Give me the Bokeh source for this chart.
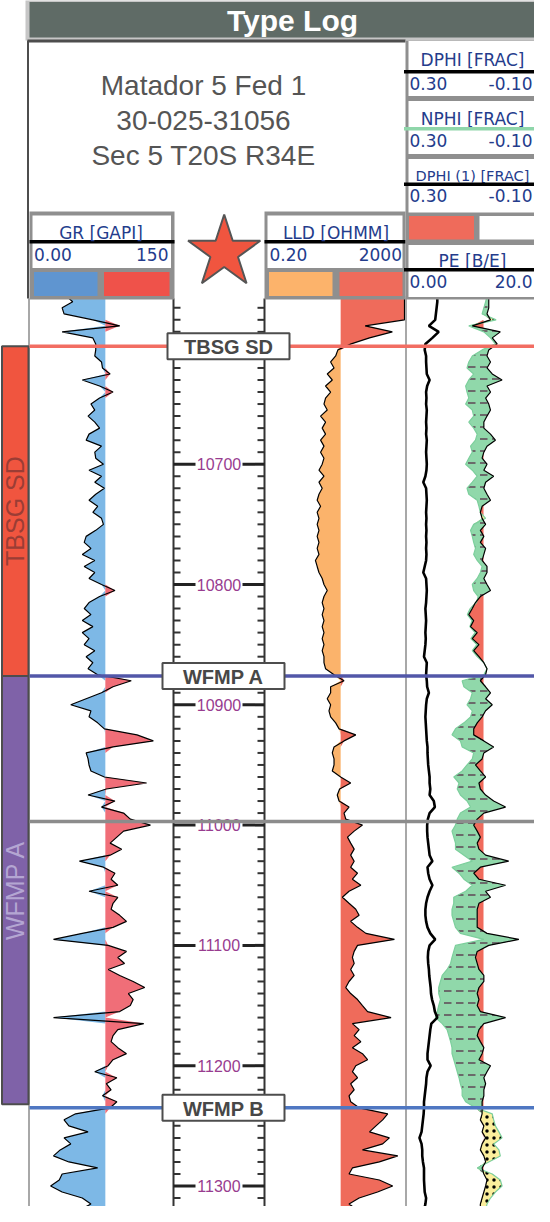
import numpy as np
from bokeh.plotting import figure
from bokeh.models import Range1d, LogScale
from bokeh.core.properties import value
from bokeh.embed import file_html
from bokeh.resources import INLINE

# ---------------- data ----------------
depth = np.arange(10560, 11321, 5)  # ft, 153 samples

gr = [38, 45, 34, 36, 66, 94, 34, 66, 69, 69,
      68, 75, 76, 84, 55, 73, 87, 73, 64, 68,
      61, 68, 73, 62, 59, 75, 68, 69, 77, 62,
      75, 68, 78, 69, 62, 71, 66, 75, 77, 69,
      59, 57, 64, 55, 68, 57, 68, 62, 75, 89,
      73, 62, 57, 64, 55, 66, 55, 62, 57, 68,
      59, 66, 61, 71, 106, 87, 75, 59, 43, 64,
      62, 71, 78, 112, 129, 87, 59, 61, 62, 64,
      78, 122, 80, 61, 89, 75, 98, 105, 126, 98,
      91, 84, 96, 84, 52, 77, 89, 85, 92, 62,
      92, 87, 85, 94, 101, 87, 55, 25, 82, 101,
      92, 99, 82, 94, 108, 120, 103, 108, 105, 94,
      25, 119, 92, 87, 85, 92, 101, 87, 82, 68,
      91, 80, 85, 76, 91, 84, 48, 36, 41, 61,
      36, 43, 32, 25, 41, 71, 34, 31, 22, 34,
      55, 64, 52]

lld = [2000, 2000, 2000, 2000, 2000, 150, 900, 200, 60, 25,
       21.6, 15.5, 19.4, 12.4, 17.3, 11.1, 15.5, 11.1, 10.0, 12.4,
       8.0, 11.1, 8.9, 11.1, 8.0, 10.0, 8.0, 10.0, 8.9, 7.2,
       10.0, 7.2, 8.9, 7.2, 6.4, 8.0, 6.4, 7.2, 6.4, 7.2,
       6.4, 7.2, 6.4, 7.2, 5.7, 6.4, 7.2, 8.9, 10.0, 12.4,
       10.0, 8.9, 10.0, 8.9, 10.0, 8.9, 10.0, 8.9, 10.0, 8.9,
       10.0, 10.0, 11.1, 19.4, 37.5, 15.5, 15.5, 12.4, 15.5, 13.9,
       15.5, 21.6, 27, 81, 37.5, 19.4, 17.3, 19.4, 19.4, 17.3,
       30, 58, 28, 24, 27, 52, 37.5, 42, 126, 73,
       47, 58, 73, 58, 73, 58, 91, 65, 113, 52,
       33.6, 52, 81, 101, 58, 91, 158, 1031, 91, 73,
       65, 73, 58, 73, 52, 42, 58, 91, 126, 176,
       826, 65, 101, 73, 113, 65, 126, 176, 81, 65,
       91, 58, 73, 52, 58, 101, 663, 476, 306, 200,
       740, 476, 126, 1286, 382, 65, 52, 382, 920, 340,
       101, 52, 91]

nphi = [.070, .074, .079, .084, .044, .122, .079, .060, .046, .084,
        .112, .122, .127, .108, .122, .131, .127, .122, .131, .112,
        .108, .122, .108, .098, .103, .117, .112, .122, .131, .112,
        .098, .112, .127, .122, .098, .093, .089, .074, .108, .117,
        .112, .108, .103, .108, .098, .084, .089, .098, .112, .108,
        .095, .100, .118, .126, .113, .119, .104, .116, .099, .112,
        .098, .079, .070, .079, .141, .136, .112, .117, .127, .112,
        .117, .136, .160, .170, .146, .141, .108, .112, .127, .141,
        .165, .150, .155, .146, .127, .117, .146, .155, .160, .170,
        .165, .160, .160, .136, .112, .170, .150, .136, .112, .131,
        .165, .165, .170, .170, .165, .160, .146, .079, .160, .165,
        .170, .174, .184, .198, .203, .208, .208, .203, .208, .212,
        .217, .198, .184, .179, .174, .170, .170, .165, .160, .155,
        .150, .146, .141, .141, .131, .103, .055, .051, .046, .036,
        .027, .051, .036, .032, .065, .098, .055, .032, .027, .046,
        .060, .070, .074]

dphi = [.065, .065, .065, .070, .060, .112, .032, .055, .041, .065,
        .070, .060, .070, .055, .027, .070, .060, .074, .065, .060,
        .070, .079, .079, .060, .046, .070, .079, .084, .070, .079,
        .051, .074, .079, .070, .060, .084, .089, .084, .074, .089,
        .079, .089, .074, .079, .084, .070, .070, .079, .070, .060,
        .089, .103, .112, .122, .108, .117, .098, .112, .093, .108,
        .093, .079, .070, .074, .089, .074, .060, .074, .055, .074,
        .084, .098, .108, .108, .079, .051, .079, .084, .103, .089,
        .074, .093, .089, .074, .051, .017, .079, .098, .108, .098,
        .089, .098, .093, .074, .008, .089, .108, .093, .017, .074,
        .060, .093, .098, .098, .098, .098, .070, -.021, .065, .098,
        .103, .098, .093, .079, .079, .093, .098, .093, .098, .089,
        .017, .079, .093, .098, .089, .079, .084, .093, .060, .070,
        .079, .074, .079, .079, .084, .084, .084, .089, .079, .084,
        .074, .084, .089, .079, .074, .084, .079, .070, .074, .079,
        .084, .089, .089]

pe = [4.4, 4.4, 4.3, 4.2, 4.1, 3.2, 4.6, 3.7, 2.7, 2.6,
      2.8, 2.8, 2.85, 2.9, 3.3, 2.95, 2.8, 2.85, 2.8, 2.9,
      2.85, 2.8, 2.85, 2.8, 2.9, 2.85, 2.8, 2.85, 2.9, 2.85,
      2.7, 2.4, 2.8, 2.85, 2.9, 2.85, 2.8, 2.85, 2.8, 2.85,
      2.8, 2.85, 2.8, 2.85, 2.8, 2.6, 2.4, 2.8, 2.85, 2.9,
      2.85, 2.8, 2.7, 2.75, 2.8, 2.75, 2.7, 2.75, 2.7, 2.6,
      2.5, 2.9, 2.85, 2.8, 2.9, 2.95, 3.2, 2.9, 2.8, 2.75,
      2.7, 2.75, 2.8, 2.85, 2.9, 3.0, 3.0, 3.05, 3.1, 3.2,
      3.3, 3.3, 3.4, 3.3, 3.9, 4.05, 3.3, 3.05, 2.95, 2.95,
      3.0, 3.1, 3.2, 3.3, 3.7, 3.0, 3.1, 3.3, 3.7, 3.3,
      3.0, 2.8, 2.7, 2.7, 2.8, 3.0, 3.4, 4.1, 3.3, 3.1,
      3.05, 3.1, 3.2, 3.25, 3.35, 3.45, 3.5, 3.65, 3.9, 4.05,
      4.4, 3.55, 3.4, 3.3, 3.2, 3.1, 3.0, 3.0, 3.45, 3.0,
      2.85, 2.8, 2.7, 2.6, 2.5, 2.5, 2.45, 2.35, 2.25, 2.15,
      1.85, 2.15, 2.25, 2.25, 2.35, 2.5, 2.5, 2.5, 2.55, 2.6,
      2.8, 2.7, 2.5]

gr_cut, lld_cut, phi_cut = 79, 30, 0.08

top_depths = [10602, 10876, 10997, 11235]
top_names = ["TBSG SD", "WFMP A", "", "WFMP B"]
top_colors = ["#f26d62", "#5257a8", "#8c8c8c", "#4f77c2"]
top_box_x = [236, 231, None, 231]

zone_names = ["TBSG SD", "WFMP A"]
zone_tops = [10602, 10876]
zone_bases = [10876, 11232]
zone_colors = ["#f0553f", "#7f62a8"]
zone_text_colors = ["#9b3d35", "#b4a6d2"]

well_lines = ["Matador 5 Fed 1", "30-025-31056", "Sec 5 T20S R34E"]
depth_labels = list(range(10600, 11301, 100))

# ---------------- geometry ----------------
W, H = 534, 1206
X0, X1, Y0, Y1 = 8, 8 + W, 8, 8 + H
D_REF, Y_REF, PX_FT = 10700, 471.7, 1.203


def y2d(y):
    return D_REF + (y - Y_REF) / PX_FT


def lin_range(l, r, vmin, vmax):
    k = (vmax - vmin) / (r - l)
    return Range1d(vmin + (X0 - l) * k, vmin + (X1 - l) * k)


def log_range(l, r, vmin, vmax):
    a, b = np.log10(vmin), np.log10(vmax)
    k = (b - a) / (r - l)
    return Range1d(10 ** (a + (X0 - l) * k), 10 ** (a + (X1 - l) * k))


GR_L, GR_R = 37, 181
LLD_L, LLD_R = 272, 412
PHI_L, PHI_R = 414, 554

p = figure(width=W, height=H, x_range=Range1d(X0, X1), y_range=Range1d(Y1, Y0),
           output_backend="svg", toolbar_location=None, min_border=0,
           x_axis_location=None, y_axis_location=None,
           extra_x_ranges={"gr": lin_range(GR_L, GR_R, 0, 150),
                           "lld": log_range(LLD_L, LLD_R, 0.2, 2000),
                           "phi": lin_range(PHI_L, PHI_R, 0.30, -0.10),
                           "pe": lin_range(PHI_L, PHI_R, 0, 20)},
           extra_x_scales={"lld": LogScale()},
           extra_y_ranges={"depth": Range1d(y2d(Y1), y2d(Y0))})
p.grid.visible = False
p.outline_line_color = None
p.background_fill_color = "white"

g = np.array(gr, float)
l = np.array(lld, float)
n = np.array(nphi, float)
d = np.array(dphi, float)
D = dict(y_range_name="depth")

# GR
p.harea(x1=np.minimum(g, gr_cut), x2=np.full_like(g, gr_cut), y=depth,
        fill_color="#7db8e6", x_range_name="gr", **D)
p.harea(x1=np.full_like(g, gr_cut), x2=np.maximum(g, gr_cut), y=depth,
        fill_color="#f06e78", x_range_name="gr", **D)
p.line(g, depth, line_color="black", line_width=1.2, x_range_name="gr", **D)

# LLD
p.harea(x1=np.minimum(l, lld_cut), x2=np.full_like(l, lld_cut), y=depth,
        fill_color="#fbb36b", x_range_name="lld", **D)
p.harea(x1=np.full_like(l, lld_cut), x2=np.maximum(l, lld_cut), y=depth,
        fill_color="#ef6b5b", x_range_name="lld", **D)
p.line(l, depth, line_color="black", line_width=1.2, x_range_name="lld", **D)

# porosity
p.harea(x1=np.maximum(d, phi_cut), x2=np.full_like(d, phi_cut), y=depth,
        fill_color="#f06b5c", x_range_name="phi", **D)
p.harea(x1=np.where(d > n, d, n), x2=n, y=depth, fill_color="#fbee9c",
        hatch_pattern="dot", hatch_color="black", hatch_scale=7, hatch_weight=1.5,
        x_range_name="phi", **D)
p.harea(x1=np.where(n > d, n, d), x2=d, y=depth, fill_color="#90d8aa",
        hatch_pattern="horizontal_dash", hatch_color="#6a6a6a", hatch_scale=12,
        hatch_weight=2, x_range_name="phi", **D)
p.line(n, depth, line_color="#7ccf9c", line_width=1.2, x_range_name="phi", **D)
p.line(d, depth, line_color="black", line_width=1.2, x_range_name="phi", **D)
p.line(pe, depth, line_color="black", line_width=2.6, x_range_name="pe", **D)

# track borders
yb0, yb1 = [depth[0]], [y2d(Y1)]
p.segment(x0=[36.5], x1=[36.5], y0=yb0, y1=yb1, line_color="#a8a8a8", line_width=2, **D)
p.segment(x0=[181, 272], x1=[181, 272], y0=yb0 * 2, y1=yb1 * 2,
          line_color="#333333", line_width=2, **D)
p.segment(x0=[413.5], x1=[413.5], y0=yb0, y1=yb1, line_color="#a8a8a8", line_width=2, **D)

# depth ticks
minor = [t for t in range(10560, 11320, 10) if t % 100 != 0]
p.segment(x0=[181] * len(minor), x1=[188] * len(minor), y0=minor, y1=minor,
          line_color="#333333", line_width=2, **D)
p.segment(x0=[265] * len(minor), x1=[272] * len(minor), y0=minor, y1=minor,
          line_color="#333333", line_width=2, **D)
nl = len(depth_labels)
p.segment(x0=[181] * nl, x1=[203] * nl, y0=depth_labels, y1=depth_labels,
          line_color="#222222", line_width=3, **D)
p.segment(x0=[250] * nl, x1=[272] * nl, y0=depth_labels, y1=depth_labels,
          line_color="#222222", line_width=3, **D)
p.text(x=[226.5] * nl, y=depth_labels, text=[str(v) for v in depth_labels],
       text_font=value("Liberation Sans"), text_font_size="16px", text_color="#983c8f",
       text_align="center", text_baseline="middle", **D)

# zone column
p.quad(left=[9.5] * 2, right=[36] * 2, top=zone_tops, bottom=zone_bases,
       fill_color=zone_colors, line_color="#4d4d4d", line_width=2, **D)
p.text(x=[22.5] * 2, y=[(a + b) / 2 for a, b in zip(zone_tops, zone_bases)],
       text=zone_names, angle=np.pi / 2, text_font=value("Liberation Sans"),
       text_font_size="25px", text_color=zone_text_colors,
       text_align="center", text_baseline="middle", **D)

# formation tops
nt = len(top_depths)
p.segment(x0=[37] * nt, x1=[X1 + 20] * nt, y0=top_depths, y1=top_depths,
          line_color=top_colors, line_width=3.5, **D)
bx = [x for x in top_box_x if x is not None]
by = [t for t, x in zip(top_depths, top_box_x) if x is not None]
bn = [s for s, x in zip(top_names, top_box_x) if x is not None]
p.rect(x=bx, y=by, width=122, height=26, width_units="screen", height_units="screen",
       fill_color="white", line_color="#4d4d4d", line_width=2, **D)
p.text(x=bx, y=by, text=bn, text_font=value("Liberation Sans"), text_font_style="bold",
       text_font_size="20px", text_color="#474747", text_align="center",
       text_baseline="middle", y_offset=1, **D)

# ---------------- header ----------------
p.quad(left=[33], right=[570], top=[3], bottom=[48], fill_color="#c6c6c6", line_color=None)
p.quad(left=[37], right=[566], top=[9.5], bottom=[45], fill_color="#5f6b66", line_color=None)
p.text(x=[300], y=[27.5], text=["Type Log"], text_font=value("Liberation Sans"),
       text_font_style="bold", text_font_size="30px", text_color="white",
       text_align="center", text_baseline="middle")

p.quad(left=[35], right=[413], top=[48], bottom=[306], fill_color="white", line_color=None)
p.segment(x0=[35], x1=[413], y0=[48.5], y1=[48.5], line_color="#4d4d4d", line_width=3)
p.segment(x0=[35.5], x1=[35.5], y0=[48], y1=[306], line_color="#4d4d4d", line_width=2)
p.text(x=[211] * 3, y=[93.3, 128.3, 163.3], text=well_lines,
       text_font=value("Liberation Sans"), text_font_size="28px", text_color="#555555",
       text_align="center", text_baseline="middle")

HF = value("DejaVu Sans")
NAVY = "#243c8c"
GRAY = "#8f8f8f"

# GR header
p.quad(left=[37], right=[182], top=[219], bottom=[307], fill_color=GRAY, line_color=None)
p.quad(left=[40], right=[178.5], top=[223], bottom=[275.5], fill_color="white", line_color=None)
p.quad(left=[41.5, 111.5], right=[105, 177], top=[279.5] * 2, bottom=[303.5] * 2,
       fill_color=["#5f95d0", "#ef524a"], line_color=None)
p.segment(x0=[37], x1=[182], y0=[249.3], y1=[249.3], line_color="black", line_width=3.5)
p.text(x=[108.5], y=[240], text=["GR [GAPI]"], text_font=HF, text_font_size="17px",
       text_color=NAVY, text_align="center", text_baseline="middle")
p.text(x=[41.5, 176], y=[261.5, 261.5], text=["0.00", "150"], text_font=HF, text_font_size="17px",
       text_color=NAVY, text_align=["left", "right"], text_baseline="middle")

# LLD header
p.quad(left=[272], right=[413], top=[219], bottom=[307], fill_color=GRAY, line_color=None)
p.quad(left=[275], right=[410], top=[223], bottom=[275.5], fill_color="white", line_color=None)
p.quad(left=[276.5, 347], right=[340, 410], top=[279.5] * 2, bottom=[303.5] * 2,
       fill_color=["#fcb36b", "#ef6b5b"], line_color=None)
p.segment(x0=[272], x1=[413], y0=[249.3], y1=[249.3], line_color="black", line_width=3.5)
p.text(x=[343.5], y=[240], text=["LLD [OHMM]"], text_font=HF, text_font_size="17px",
       text_color=NAVY, text_align="center", text_baseline="middle")
p.text(x=[277, 409.5], y=[261.5, 261.5], text=["0.20", "2000"], text_font=HF, text_font_size="17px",
       text_color=NAVY, text_align=["left", "right"], text_baseline="middle")

# star
p.scatter(x=[231.7], y=[260], marker="star", size=76, fill_color="#f0553f",
          line_color="#555555", line_width=2)

# right column header
p.quad(left=[413], right=[570], top=[48], bottom=[307], fill_color=GRAY, line_color=None)
box_t = [48.5, 108.5, 166.5, 252.5]
box_b = [103.5, 161.5, 220, 304.5]
p.quad(left=[416] * 4, right=[570] * 4, top=box_t, bottom=box_b, fill_color="white", line_color=None)
p.quad(left=[416.5, 487], right=[481.5, 570], top=[223.5] * 2, bottom=[247] * 2,
       fill_color=["#ef6b5b", "white"], line_color=None)
p.text(x=[480] * 4, y=[67.3, 126.7, 183.3, 268.3],
       text=["DPHI [FRAC]", "NPHI [FRAC]", "DPHI (1) [FRAC]", "PE [B/E]"],
       text_font=HF, text_font_size=["17px", "17px", "14.5px", "17px"], text_color=NAVY,
       text_align="center", text_baseline="middle")
p.segment(x0=[411.5] * 4, x1=[570] * 4, y0=[79.3, 136.3, 191.7, 277.3], y1=[79.3, 136.3, 191.7, 277.3],
          line_color=["black", "#8fd6aa", "black", "black"], line_width=3.5)
p.text(x=[417] * 4, y=[91.2, 148.3, 203.3, 289.3], text=["0.30", "0.30", "0.30", "0.00"],
       text_font=HF, text_font_size="17px", text_color=NAVY,
       text_align="left", text_baseline="middle")
p.text(x=[540] * 4, y=[91.2, 148.3, 203.3, 289.3], text=["-0.10", "-0.10", "-0.10", "20.0"],
       text_font=HF, text_font_size="17px", text_color=NAVY,
       text_align="right", text_baseline="middle")

open("out.html", "w").write(file_html(p, INLINE))
